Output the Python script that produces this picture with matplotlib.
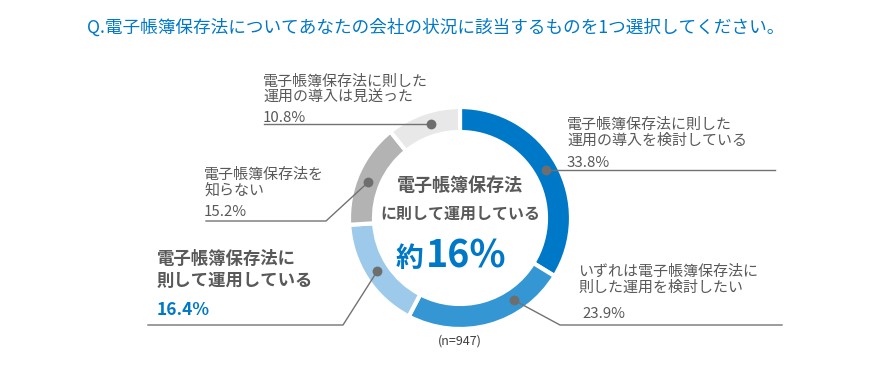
import matplotlib
matplotlib.use("Agg")
import numpy as np
import matplotlib.pyplot as plt

plt.rcParams['font.family'] = ['Noto Sans CJK JP', 'DejaVu Sans']

title = "Q.電子帳簿保存法についてあなたの会社の状況に該当するものを1つ選択してください。"
labels = ["電子帳簿保存法に則した\n運用の導入を検討している",
          "いずれは電子帳簿保存法に\n則した運用を検討したい",
          "電子帳簿保存法に\n則して運用している",
          "電子帳簿保存法を\n知らない",
          "電子帳簿保存法に則した\n運用の導入は見送った"]
values = [33.8, 23.9, 16.4, 15.2, 10.8]
colors = ["#0078C8", "#3596D4", "#9DCAEA", "#B3B3B3", "#E8E8E8"]
n_total = 947

TXT = "#595959"
LINE = "#767171"
BLUE = "#0078C8"

W, H = 894, 370
fig = plt.figure(figsize=(W / 100, H / 100), dpi=100)
ax = fig.add_axes([0, 0, 1, 1])

cx, cy = 460, H - 218
r_out, ring = 111, 25
ax.pie(values, colors=colors, startangle=90, counterclock=False,
       center=(cx, cy), radius=r_out, frame=True,
       wedgeprops=dict(width=ring, edgecolor='white', linewidth=3))
ax.set_xlim(0, W)
ax.set_ylim(0, H)
ax.set_aspect('equal')
ax.axis('off')

# dots inside each wedge (fraction along the wedge)
dot_frac = [0.5, 0.29, 0.5, 0.45, 0.55]
cum = np.cumsum([0] + values)
angs = 90 - (cum[:-1] + np.array(values) * np.array(dot_frac)) * 3.6
r_mid = r_out - ring / 2
dots = [(cx + r_mid * np.cos(np.radians(a)), cy + r_mid * np.sin(np.radians(a))) for a in angs]

# leader lines: (bend point, end x)
bends = [(None, 775), ((560, H - 325), 782), ((343, H - 325), 148),
         ((326, H - 221), 206), (None, 264)]
for (dx, dy), (bend, ex) in zip(dots, bends):
    if bend is None:
        ax.plot([dx, ex], [dy, dy], color=LINE, lw=1, zorder=3)
    else:
        ax.plot([dx, bend[0], ex], [dy, bend[1], bend[1]], color=LINE, lw=1, zorder=3)
    ax.scatter([dx], [dy], s=50, color="#6E6E6E", zorder=4, linewidths=0)

# labels
fs = 10.8
ls = 1.15
ax.text(567, H - 133, labels[0], fontsize=fs, color=TXT, ha='left', va='center', linespacing=ls)
ax.text(567, H - 163, f"{values[0]}%", fontsize=fs, color=TXT, ha='left', va='center')
ax.text(578, H - 280, labels[1], fontsize=fs, color=TXT, ha='left', va='center', linespacing=ls)
ax.text(582, H - 314, f"{values[1]}%", fontsize=fs, color=TXT, ha='left', va='center')
ax.text(157, H - 270, labels[2], fontsize=12.5, fontweight='bold', color=TXT,
        ha='left', va='center', linespacing=1.35)
ax.text(157, H - 310, f"{values[2]}%", fontsize=12.5, fontweight='bold', color=BLUE,
        ha='left', va='center')
ax.text(204, H - 183, labels[3], fontsize=fs, color=TXT, ha='left', va='center', linespacing=ls)
ax.text(204, H - 212, f"{values[3]}%", fontsize=fs, color=TXT, ha='left', va='center')
ax.text(263, H - 90, labels[4], fontsize=fs, color=TXT, ha='left', va='center', linespacing=ls)
ax.text(263, H - 118, f"{values[4]}%", fontsize=fs, color=TXT, ha='left', va='center')

# center
ax.text(cx, H - 185, "電子帳簿保存法", fontsize=13, fontweight='bold', color=TXT, ha='center', va='center')
ax.text(cx, H - 214, "に則して運用している", fontsize=11.5, fontweight='bold', color=TXT, ha='center', va='center')
ax.text(423, H - 267, "約", fontsize=20, fontweight='bold', color=BLUE, ha='right', va='baseline')
ax.text(426, H - 267, "16%", fontsize=27, fontweight='bold', color=BLUE, ha='left', va='baseline')
ax.text(cx, H - 341, f"(n={n_total})", fontsize=9, color="#404040", ha='center', va='center')

fig.text(436 / W, 1 - 28 / H, title, fontsize=12.7, color=BLUE, ha='center', va='center')

fig.savefig("out.png", dpi=100, facecolor='white')
